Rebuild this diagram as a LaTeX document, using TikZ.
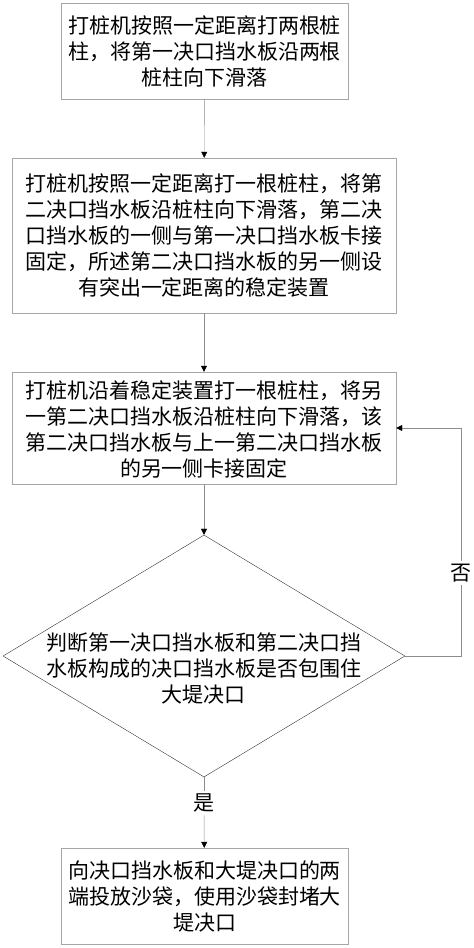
\documentclass[tikz,border=0pt]{standalone}
\usepackage{fontspec}
\newfontfamily\cjk{Noto Sans CJK SC}
\usetikzlibrary{shapes.geometric,arrows.meta}

\begin{document}
\begin{tikzpicture}[x=1pt,y=-1pt,
	stepbox/.style={draw=gray!70, rectangle, inner sep=0pt, align=center},
	decision/.style={draw=black!80, diamond, inner sep=0pt},
	txt/.style={align=center, inner sep=0pt, font=\cjk\fontsize{21pt}{26pt}\selectfont},
	flow/.style={draw=gray!90, -{Triangle[length=6pt,width=6pt,black]}}]

	\useasboundingbox (0,0) rectangle (474,948);

	% Boxes
	\node[stepbox, minimum width=287pt, minimum height=96pt] (piles) at (204.5,51) {};
	\node[txt] at (piles) {打桩机按照一定距离打两根桩\\柱，将第一决口挡水板沿两根\\桩柱向下滑落};

	\node[stepbox, minimum width=384pt, minimum height=155pt] (second) at (204,235.5) {};
	\node[txt] at (204,235) {打桩机按照一定距离打一根桩柱，将第\\二决口挡水板沿桩柱向下滑落，第二决\\口挡水板的一侧与第一决口挡水板卡接\\固定，所述第二决口挡水板的另一侧设\\有突出一定距离的稳定装置};

	\node[stepbox, minimum width=384pt, minimum height=112pt] (redo) at (204,428) {};
	\node[txt] at (204,429) {打桩机沿着稳定装置打一根桩柱，将另\\一第二决口挡水板沿桩柱向下滑落，该\\第二决口挡水板与上一第二决口挡水板\\的另一侧卡接固定};

	\node[decision, minimum width=402pt, minimum height=242pt] (judge) at (204,656) {};
	\node[txt] at (204,668) {判断第一决口挡水板和第二决口挡\\水板构成的决口挡水板是否包围住\\大堤决口};

	\node[stepbox, minimum width=287pt, minimum height=96pt] (seal) at (204.5,896) {};
	\node[txt] at (seal) {向决口挡水板和大堤决口的两\\端投放沙袋，使用沙袋封堵大\\堤决口};

	% Labels
	\node[txt, fill=white, inner sep=3pt] (yes) at (204,803) {是};
	\node[txt, fill=white, inner sep=3pt] (no) at (461,573) {否};

	% Connectors
	\draw[flow] (piles) -- (second);
	\draw[flow] (second) -- (redo);
	\draw[flow] (redo) -- (judge);
	\draw[draw=gray!90] (judge.south) -- (yes);
	\draw[flow] (yes) -- (seal);
	\draw[draw=gray!90] (judge.east) -| (no);
	\draw[flow] (no) |- (redo.east);

\end{tikzpicture}
\end{document}
